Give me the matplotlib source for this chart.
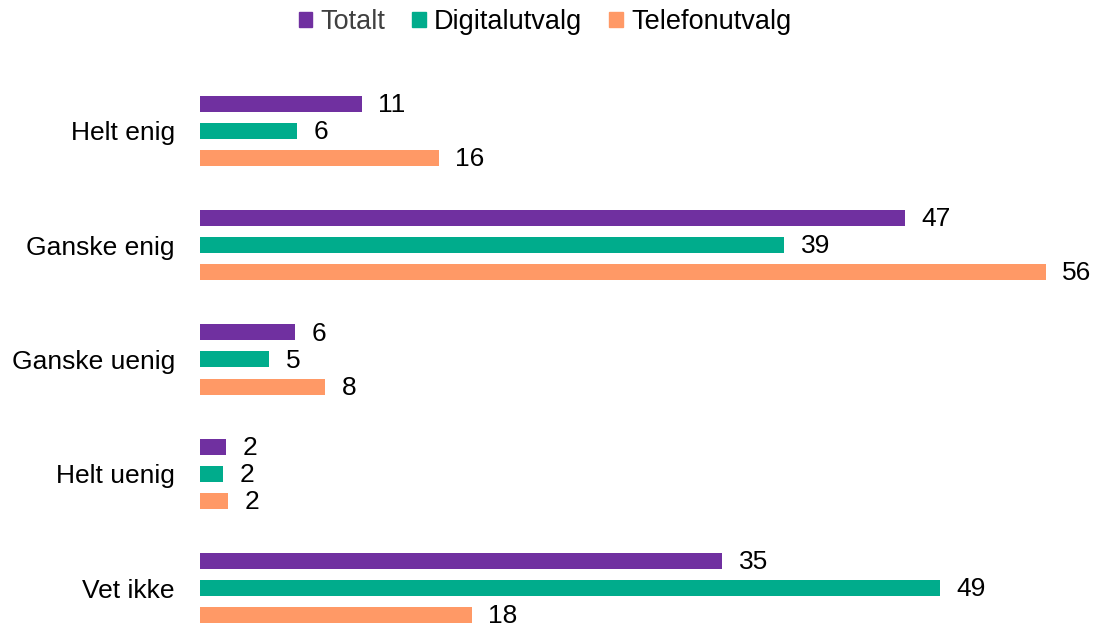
import numpy as np
import matplotlib.pyplot as plt
from matplotlib.patches import Patch

plt.rcParams['font.family'] = ['Liberation Sans', 'DejaVu Sans']

categories = ['Helt enig', 'Ganske enig', 'Ganske uenig', 'Helt uenig', 'Vet ikke']
series = ['Totalt', 'Digitalutvalg', 'Telefonutvalg']
totalt = [10.7, 46.7, 6.3, 1.7, 34.6]
digital = [6.4, 38.7, 4.6, 1.55, 49.0]
telefon = [15.8, 56.0, 8.3, 1.85, 18.0]
colors = ['#7030A0', '#00AC8C', '#FF9966']

fig = plt.figure(figsize=(10.94, 6.26), dpi=100)
# axes placed in pixels: left edge of bars at x=200, bottom of figure
ax = fig.add_axes([200 / 1094, 0, 894 / 1094, 552 / 626])

y = np.arange(len(categories))
offset = 27 / 114.25
height = 16 / 114.25

for i, (name, vals) in enumerate(zip(series, [totalt, digital, telefon])):
    pos = y + (i - 1) * offset
    ax.barh(pos, vals, height=height, color=colors[i], label=name)
    for p, v in zip(pos, vals):
        ax.text(v + 1.1, p + 0.01, f'{v:.0f}', va='center', ha='left', fontsize=19, color='black')

ax.set_xlim(0, 894 / 15.1)
ax.set_ylim((626 - 131) / 114.25, -(131 - 74) / 114.25)
ax.set_yticks(y)
ax.set_yticklabels(categories, fontsize=19)
ax.tick_params(axis='y', length=0, pad=18)
ax.set_xticks([])
for s in ax.spines.values():
    s.set_visible(False)

handles = [Patch(color=c) for c in colors]
leg = fig.legend(handles, series, loc='center', ncol=3,
                 bbox_to_anchor=(545 / 1094, 1 - 22 / 626), frameon=False,
                 fontsize=19.5, handlelength=0.5, handleheight=0.5,
                 handletextpad=0.3, columnspacing=1.0)
leg.get_texts()[0].set_color('#404040')

fig.savefig('out.png', dpi=100)
